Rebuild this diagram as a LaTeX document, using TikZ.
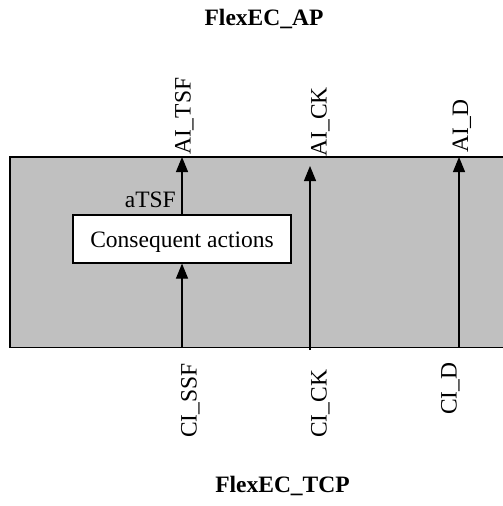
\documentclass[tikz,border=0pt]{standalone}
\usepackage{fontspec}
\setmainfont{Liberation Serif}
\usetikzlibrary{arrows.meta}
\definecolor{panelgray}{HTML}{C0C0C0}
\tikzset{
  sig/.style={line width=1.2pt, -{Triangle[length=15pt,width=12pt]}},
  vlabel/.style={rotate=90, anchor=base west, inner sep=0pt, font=\fontsize{23.5}{26}\selectfont},
  plain/.style={inner sep=0pt, font=\fontsize{23.5}{26}\selectfont},
  title/.style={inner sep=0pt, anchor=base, font=\fontsize{23.5}{26}\selectfont\bfseries},
  actbox/.style={draw, line width=1.2pt, fill=white, minimum width=218pt, minimum height=48pt,
    inner sep=0pt, text height=16pt, text depth=0pt, font=\fontsize{23.5}{26}\selectfont}
}
\begin{document}
\begin{tikzpicture}[x=1pt,y=-1pt]
\useasboundingbox (0,0) rectangle (503,506);
\clip (0,0) rectangle (503,506);
% panel
\draw[line width=1.2pt, fill=panelgray] (10,157) rectangle (530,347.5);
\coordinate (topA) at (182,157);
\coordinate (topB) at (310,166);
\coordinate (topC) at (459,157);
\coordinate (botA) at (182,347.5);
\coordinate (botB) at (310,350);
\coordinate (botC) at (459,347.5);
% consequent actions box
\node[actbox] (ca) at (182,239) {Consequent actions};
% arrows
\draw[sig] (botA) -- (ca.south);
\draw[sig] (ca.north) -- (topA);
\draw[sig] (botB) -- (topB);
\draw[sig] (botC) -- (topC);
% labels
\node[plain, anchor=base east] (atsf) at (176,207) {aTSF};
\node[vlabel] (aitsf) at (190.5,155) {AI\_TSF};
\node[vlabel] (aick) at (326.5,156.5) {AI\_CK};
\node[vlabel] (aid) at (468,153) {AI\_D};
\node[vlabel] (cissf) at (196.5,438) {CI\_SSF};
\node[vlabel] (cick) at (326.5,438) {CI\_CK};
\node[vlabel] (cid) at (456.5,415) {CI\_D};
% titles
\node[title] (ap) at (264,25.5) {FlexEC\_AP};
\node[title] (tcp) at (282.5,492) {FlexEC\_TCP};
\end{tikzpicture}
\end{document}
